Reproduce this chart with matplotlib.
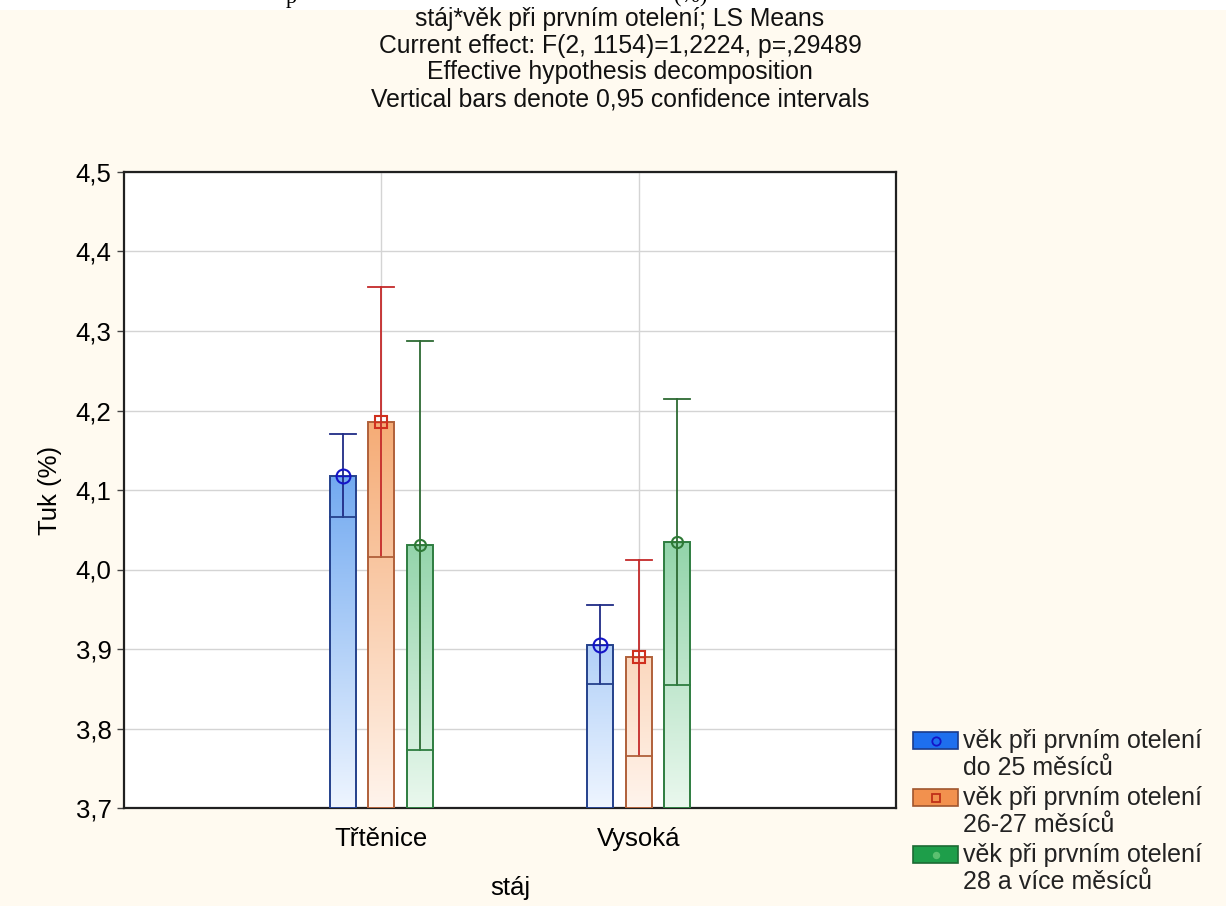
import numpy as np
import matplotlib.pyplot as plt
from matplotlib.colors import LinearSegmentedColormap
from matplotlib.patches import Rectangle

# data (LS means, 0.95 CI)
stables = ['Třtěnice', 'Vysoká']
age_groups = ['věk při prvním otelení\ndo 25 měsíců',
              'věk při prvním otelení\n26-27 měsíců',
              'věk při prvním otelení\n28 a více měsíců']
means = [[4.117, 3.905], [4.186, 3.890], [4.031, 4.034]]
ci_low = [[4.066, 3.856], [4.016, 3.766], [3.773, 3.855]]
ci_high = [[4.170, 3.955], [4.355, 4.012], [4.288, 4.215]]
yticks = [3.7, 3.8, 3.9, 4.0, 4.1, 4.2, 4.3, 4.4, 4.5]

plt.rcParams['font.family'] = ['Liberation Sans', 'DejaVu Sans']

bg = '#FFFAF0'
light = ['#EEF5FF', '#FFF4EC', '#EAF8EE']
full = ['#4B92EC', '#F4A266', '#5ABD7E']
edges = ['#24418C', '#B0603A', '#2E7D40']
ecols = ['#202C86', '#C42A2A', '#2D6A33']
mcols = ['#1414C8', '#D0301E', '#2E7A36']
markers = ['o', 's', 'o']
msizes = [10, 9, 8]
patch_cols = ['#1E6FEE', '#F2914E', '#1E9E4A']
patch_edges = ['#1A3C8C', '#A0562E', '#1C6A34']
patch_mk = ['#1414C8', '#C03018', '#5CC070']

offsets = [-0.15, 0.0, 0.15]
w = 0.1
base = 3.7

fig = plt.figure(figsize=(12.26, 9.06), dpi=100, facecolor=bg)
ax = fig.add_axes([124/1226, 1-808/906, 772/1226, 636/906])
ax.set_facecolor('white')

grad = np.linspace(0, 1, 256).reshape(-1, 1)
for si in range(3):
    cmap = LinearSegmentedColormap.from_list('g%d' % si, [light[si], full[si]])
    for gi in range(2):
        x = gi + 1 + offsets[si]
        m = means[si][gi]
        rect = ax.bar(x, m - base, bottom=base, width=w, facecolor='none',
                      edgecolor=edges[si], linewidth=1.4, zorder=4)[0]
        im = ax.imshow(grad, extent=[x - w/2, x + w/2, 3.7, 4.25], origin='lower',
                       cmap=cmap, aspect='auto', zorder=3, interpolation='bilinear')
        im.set_clip_path(rect)
        # CI: vertical line, top cap, bottom line across the bar
        ax.plot([x, x], [ci_low[si][gi], ci_high[si][gi]], color=ecols[si], lw=1.3, zorder=5)
        ax.plot([x - w/2, x + w/2], [ci_high[si][gi]] * 2, color=ecols[si], lw=1.3, zorder=5)
        ax.plot([x - w/2, x + w/2], [ci_low[si][gi]] * 2, color=edges[si], lw=1.3, zorder=5)
        ax.plot(x, m, marker=markers[si], ms=msizes[si], mfc='none', mec=mcols[si],
                mew=1.5, zorder=6)
        ax.plot(x, m, marker='_', ms=msizes[si], mec=mcols[si], mew=1.0, zorder=6)

ax.set_xlim(0, 3)
ax.set_ylim(3.7, 4.5)
ax.set_xticks([1, 2])
ax.set_xticklabels(stables, fontsize=18.5)
ax.set_yticks(yticks)
ax.set_yticklabels([('%.1f' % v).replace('.', ',') for v in yticks], fontsize=18.5)
ax.tick_params(axis='y', direction='out', length=5, width=1, color='#444444', pad=4)
ax.tick_params(axis='x', direction='in', length=5, width=1, pad=14)
ax.grid(True, color='#D4D4D4', lw=1, zorder=0)
ax.set_axisbelow(True)
for s in ax.spines.values():
    s.set_linewidth(1.6)
    s.set_color('#202020')
ax.set_xlabel('stáj', fontsize=18.5, labelpad=18)
ax.set_ylabel('Tuk (%)', fontsize=18.5, labelpad=10)

# title block
title_lines = ['stáj*věk při prvním otelení; LS Means',
               'Current effect: F(2, 1154)=1,2224, p=,29489',
               'Effective hypothesis decomposition',
               'Vertical bars denote 0,95 confidence intervals']
for i, t in enumerate(title_lines):
    fig.text(620/1226, 1 - (19 + 26.7*i)/906, t, ha='center', va='center',
             fontsize=17.8, color='#111111')

# top strip: cut-off line of document text
fig.patches.append(Rectangle((0, 1 - 10/906), 1, 10/906, transform=fig.transFigure,
                             facecolor='white', edgecolor='none', zorder=0))
fig.text(286/1226, 1 - 3/906, 'p', family='Liberation Serif', fontsize=16, va='baseline')
fig.text(674/1226, 1 - 2/906, '(%)', family='Liberation Serif', fontsize=16, va='baseline')

# legend, drawn outside the plot
for si in range(3):
    yc = 741 + 57*si
    fig.patches.append(Rectangle((913/1226, 1 - (yc + 8)/906), 45/1226, 17/906,
                                 transform=fig.transFigure, facecolor=patch_cols[si],
                                 edgecolor=patch_edges[si], lw=1.2))
    fig.lines.append(plt.Line2D([935.5/1226], [1 - yc/906], transform=fig.transFigure,
                                marker=markers[si], ms=6 if si < 2 else 4, mfc='none' if si < 2 else patch_mk[si],
                                mec=patch_mk[si], mew=1.3, ls='none'))
    l1, l2 = age_groups[si].split('\n')
    fig.text(963/1226, 1 - yc/906, l1, fontsize=18, va='center', color='#222222')
    fig.text(963/1226, 1 - (yc + 27)/906, l2, fontsize=18, va='center', color='#222222')

fig.savefig('out.png', dpi=100, facecolor=bg)
